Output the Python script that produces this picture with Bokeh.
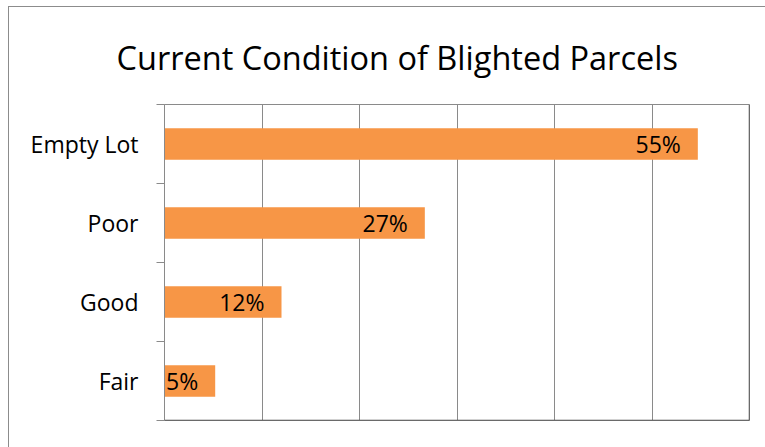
from bokeh.plotting import figure
from bokeh.models import Range1d, FixedTicker, ColumnDataSource, Span
from bokeh.core.properties import value
from bokeh.embed import file_html
from bokeh.resources import INLINE

title_text = "Current Condition of Blighted Parcels"
categories = ["Empty Lot", "Poor", "Good", "Fair"]
values = [54.7, 26.7, 12.0, 5.2]
x_ticks = [0, 10, 20, 30, 40, 50, 60]

FONT = "Open Sans"
ORANGE = "#F79646"
GRID = "#8a8a8a"
DARK = "#4a4a4a"

n = len(categories)
centers = [n - 1 - i + 0.5 for i in range(n)]
boundaries = list(range(n + 1))
labels_txt = [f"{round(v)}%" for v in values]

src = ColumnDataSource(dict(cat=categories, val=values, y=centers, lab=labels_txt))

p = figure(width=757, height=441, output_backend="svg", toolbar_location=None,
           x_range=Range1d(x_ticks[0], x_ticks[-1]), y_range=Range1d(0, n),
           min_border_left=155, min_border_right=17, min_border_top=97, min_border_bottom=28)
p.styles = {"margin-left": "8px", "margin-top": "6px",
            "border-left": "1px solid #8c8c8c", "border-top": "1px solid #8c8c8c"}

p.title.text = title_text
p.title.text_font = FONT
p.title.text_font_size = "32.5px"
p.title.text_font_style = "normal"
p.title.text_color = "#000000"
p.title.align = "left"
p.title.offset = -48
p.title.standoff = 50

p.hbar(y="y", right="val", left=0, height=0.4, source=src, color=ORANGE, line_color=None)
p.text(x="val", y="y", text="lab", source=src, x_offset=-17, text_align="right",
       text_baseline="middle", text_font=value(FONT), text_font_size="23px", text_color="#000000")

ya = p.yaxis[0]
ya.ticker = FixedTicker(ticks=centers, minor_ticks=boundaries)
ya.major_label_overrides = {c: name for c, name in zip(centers, categories)}
ya.major_tick_out = 0
ya.major_tick_in = 0
ya.minor_tick_out = 8
ya.minor_tick_in = 0
ya.minor_tick_line_color = GRID
ya.axis_line_color = GRID
ya.major_label_standoff = 18
ya.major_label_text_font = FONT
ya.major_label_text_font_size = "23px"
ya.major_label_text_color = "#000000"

p.xaxis.visible = False

p.ygrid.visible = False
p.xgrid.ticker = FixedTicker(ticks=x_ticks, minor_ticks=[])
p.xgrid.grid_line_color = GRID
p.outline_line_color = GRID
p.add_layout(Span(location=x_ticks[-1], dimension="height", line_color=DARK, line_width=1.5))
p.add_layout(Span(location=0, dimension="width", line_color=DARK, line_width=1.5))

open("out.html", "w").write(file_html(p, INLINE))
